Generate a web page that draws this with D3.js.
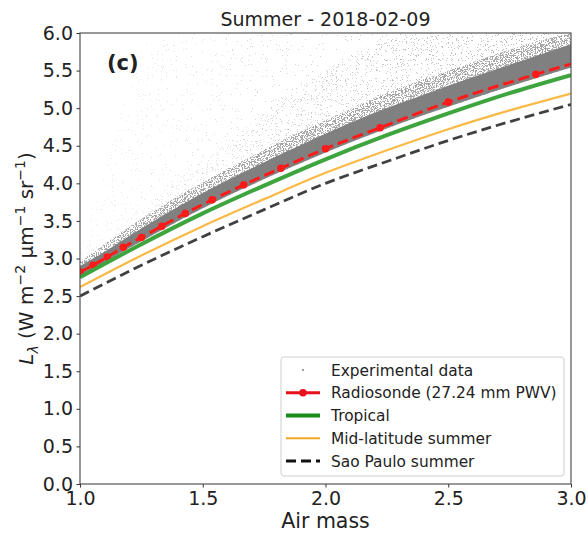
<!DOCTYPE html>
<html>
<head>
<meta charset="utf-8">
<script src="https://cdn.jsdelivr.net/npm/d3@7"></script>
<style>
  body { margin: 0; background: #fff; }
  text { font-family: "DejaVu Sans", sans-serif; fill: #222; }
</style>
</head>
<body>
<svg width="588" height="536"></svg>
<script>
// radiosonde run (markers)
const airmassRS = [1.0, 1.053, 1.111, 1.176, 1.25, 1.333, 1.429, 1.538, 1.667, 1.818, 2.0, 2.222, 2.5, 2.857, 3.333];
const radiosonde = [2.82, 2.91, 3.02, 3.15, 3.28, 3.43, 3.60, 3.78, 3.98, 4.20, 4.46, 4.74, 5.08, 5.45, 5.89];

// model atmospheres
const airmassModel = [1.0, 1.25, 1.5, 1.75, 2.0, 2.25, 2.5, 2.75, 3.0];
const tropical = [2.75, 3.19, 3.60, 3.97, 4.32, 4.64, 4.93, 5.20, 5.44];
const midLatSummer = [2.62, 3.04, 3.43, 3.79, 4.14, 4.44, 4.72, 4.97, 5.195];
const saoPauloSummer = [2.50, 2.91, 3.29, 3.65, 4.00, 4.29, 4.57, 4.82, 5.05];

// experimental cloud, read as envelopes
const cloudX = [1.0, 1.1, 1.2, 1.3, 1.4, 1.5, 1.6, 1.7, 1.8, 1.9, 2.0, 2.2, 2.4, 2.6, 2.8, 3.0];
const bandLow = [2.77, 2.95, 3.14, 3.32, 3.50, 3.67, 3.83, 3.98, 4.13, 4.27, 4.41, 4.67, 4.91, 5.13, 5.34, 5.54];
const bandHigh = [2.90, 3.09, 3.30, 3.50, 3.69, 3.87, 4.04, 4.20, 4.36, 4.51, 4.66, 4.94, 5.18, 5.41, 5.63, 5.85];
const edgeHigh = [2.96, 3.19, 3.42, 3.63, 3.83, 4.01, 4.19, 4.36, 4.53, 4.69, 4.84, 5.13, 5.38, 5.61, 5.83, 6.0];
const fuzzHigh = [3.0, 3.25, 3.55, 3.8, 4.05, 4.3, 4.55, 4.8, 5.05, 5.3, 5.5, 5.85, 6.0, 6.0, 6.0, 6.0];
const sparseHigh = [3.1, 4.2, 5.3, 6.0, 6.0, 6.0, 6.0, 6.0, 6.0, 6.0, 6.0, 6.0, 6.0, 6.0, 6.0, 6.0];

const xTicks = [1.0, 1.5, 2.0, 2.5, 3.0];
const yTicks = [0.0, 0.5, 1.0, 1.5, 2.0, 2.5, 3.0, 3.5, 4.0, 4.5, 5.0, 5.5, 6.0];

const legendItems = [
  { label: "Experimental data", kind: "dot" },
  { label: "Radiosonde (27.24 mm PWV)", kind: "red" },
  { label: "Tropical", kind: "green" },
  { label: "Mid-latitude summer", kind: "orange" },
  { label: "Sao Paulo summer", kind: "black" }
];

const margin = { top: 33, right: 17, bottom: 52, left: 80 };
const W = 588, H = 536;
const plotW = W - margin.left - margin.right;
const plotH = H - margin.top - margin.bottom;

const svg = d3.select("svg");
const defs = svg.append("defs");

defs.append("clipPath").attr("id", "plotClip")
  .append("rect").attr("width", plotW).attr("height", plotH);

// speckle filters give the scatter-cloud texture
function speckle(id, seed, freq, cut) {
  const f = defs.append("filter").attr("id", id)
    .attr("filterUnits", "userSpaceOnUse")
    .attr("x", 0).attr("y", 0).attr("width", plotW).attr("height", plotH)
    .attr("color-interpolation-filters", "sRGB");
  f.append("feTurbulence").attr("type", "fractalNoise")
    .attr("baseFrequency", freq).attr("numOctaves", 2).attr("seed", seed).attr("result", "n");
  f.append("feColorMatrix").attr("in", "n").attr("type", "matrix")
    .attr("values", "0 0 0 0 0  0 0 0 0 0  0 0 0 0 0  1 0 0 0 0").attr("result", "a");
  const steps = 50;
  const table = d3.range(steps).map(i => (i / steps >= cut ? 1 : 0)).join(" ");
  f.append("feComponentTransfer").attr("in", "a").attr("result", "dots")
    .append("feFuncA").attr("type", "discrete").attr("tableValues", table);
  f.append("feComposite").attr("in", "SourceGraphic").attr("in2", "dots").attr("operator", "in");
}
speckle("spSparse", 3, 0.8, 0.74);
speckle("spFuzz", 7, 0.8, 0.68);
speckle("spEdge", 11, 0.85, 0.52);

const grad = defs.append("linearGradient").attr("id", "cloudGrad")
  .attr("x1", 0).attr("x2", 1).attr("y1", 0).attr("y2", 0);
grad.append("stop").attr("offset", "0%").attr("stop-color", "#a8a8a8").attr("stop-opacity", 0.2);
grad.append("stop").attr("offset", "35%").attr("stop-color", "#a8a8a8").attr("stop-opacity", 0.45);
grad.append("stop").attr("offset", "100%").attr("stop-color", "#a8a8a8").attr("stop-opacity", 0.85);

const x = d3.scaleLinear().domain([1, 3]).range([0, plotW]);
const y = d3.scaleLinear().domain([0, 6]).range([plotH, 0]);

const g = svg.append("g").attr("transform", `translate(${margin.left},${margin.top})`);
const plot = g.append("g").attr("clip-path", "url(#plotClip)");

// cloud layers
function cloudArea(top) {
  return d3.area()
    .x((d, i) => x(cloudX[i]))
    .y0((d, i) => y(bandLow[i]))
    .y1((d, i) => y(top[i]))
    .curve(d3.curveMonotoneX)(cloudX);
}
const cloudLayer = plot.append("g");
cloudLayer.append("path").attr("d", cloudArea(sparseHigh))
  .attr("fill", "url(#cloudGrad)").attr("filter", "url(#spSparse)");
cloudLayer.append("path").attr("d", cloudArea(fuzzHigh))
  .attr("fill", "url(#cloudGrad)").attr("filter", "url(#spFuzz)");
cloudLayer.append("path").attr("d", cloudArea(edgeHigh))
  .attr("fill", "#8c8c8c").attr("fill-opacity", 0.75).attr("filter", "url(#spEdge)");
cloudLayer.append("path").attr("d", cloudArea(bandHigh))
  .attr("fill", "#808080");

// lines
const lineRS = d3.line()
  .x((d, i) => x(airmassRS[i]))
  .y(d => y(d))
  .curve(d3.curveMonotoneX);
const lineModel = d3.line()
  .x((d, i) => x(airmassModel[i]))
  .y(d => y(d))
  .curve(d3.curveMonotoneX);

plot.append("path").attr("d", lineRS(radiosonde))
  .attr("fill", "none").attr("stroke", "#ff1a1a").attr("stroke-width", 3)
  .attr("stroke-dasharray", "11,5");
plot.selectAll("circle.rs").data(radiosonde).enter().append("circle")
  .attr("class", "rs")
  .attr("cx", (d, i) => x(airmassRS[i]))
  .attr("cy", d => y(d))
  .attr("r", 3.8)
  .attr("fill", "#ff1a1a");

plot.append("path").attr("d", lineModel(tropical))
  .attr("fill", "none").attr("stroke", "#3ea43e").attr("stroke-width", 4);
plot.append("path").attr("d", lineModel(midLatSummer))
  .attr("fill", "none").attr("stroke", "#f9b944").attr("stroke-width", 2.2);
plot.append("path").attr("d", lineModel(saoPauloSummer))
  .attr("fill", "none").attr("stroke", "#404040").attr("stroke-width", 2.8)
  .attr("stroke-dasharray", "10,5");

// axes
const xAxis = d3.axisBottom(x).tickValues(xTicks).tickFormat(d3.format(".1f"))
  .tickSizeInner(3.5).tickSizeOuter(0).tickPadding(4);
const yAxis = d3.axisLeft(y).tickValues(yTicks).tickFormat(d3.format(".1f"))
  .tickSizeInner(3.5).tickSizeOuter(0).tickPadding(3.5);

const gx = g.append("g").attr("transform", `translate(0,${plotH})`).call(xAxis);
const gy = g.append("g").call(yAxis);
[gx, gy].forEach(a => {
  a.select(".domain").remove();
  a.selectAll(".tick line").attr("stroke", "#333").attr("stroke-width", 1);
  a.selectAll(".tick text").attr("font-size", "19px").attr("fill", "#222")
    .attr("font-family", "DejaVu Sans");
});

// frame
g.append("rect").attr("width", plotW).attr("height", plotH)
  .attr("fill", "none").attr("stroke", "#444").attr("stroke-width", 1.1);

// titles
g.append("text").attr("x", plotW / 2).attr("y", -7)
  .attr("text-anchor", "middle").attr("font-size", "19px")
  .text("Summer - 2018-02-09");

g.append("text").attr("x", 27).attr("y", 37)
  .attr("font-size", "21px").attr("font-weight", "bold")
  .text("(c)");

g.append("text").attr("x", plotW / 2).attr("y", plotH + 44)
  .attr("text-anchor", "middle").attr("font-size", "20.5px")
  .text("Air mass");

const yl = svg.append("text")
  .attr("transform", `translate(33,${margin.top + plotH / 2}) rotate(-90)`)
  .attr("text-anchor", "middle").attr("font-size", "20px");
yl.append("tspan").attr("font-style", "italic").text("L");
yl.append("tspan").attr("font-style", "italic").attr("font-size", "14px").attr("dy", 5).text("λ");
yl.append("tspan").attr("dy", -5).text(" (W m");
yl.append("tspan").attr("font-size", "14px").attr("dy", -8).text("−2");
yl.append("tspan").attr("dy", 8).text(" µm");
yl.append("tspan").attr("font-size", "14px").attr("dy", -8).text("−1");
yl.append("tspan").attr("dy", 8).text(" sr");
yl.append("tspan").attr("font-size", "14px").attr("dy", -8).text("−1");
yl.append("tspan").attr("dy", 8).text(")");

// legend
const lg = svg.append("g").attr("transform", "translate(281,357)");
lg.append("rect").attr("width", 283).attr("height", 119).attr("rx", 3)
  .attr("fill", "#fff").attr("fill-opacity", 0.85)
  .attr("stroke", "#d0d0d0").attr("stroke-width", 1);
const rows = lg.selectAll("g.row").data(legendItems).enter().append("g")
  .attr("class", "row")
  .attr("transform", (d, i) => `translate(0,${13 + i * 22.75})`);
rows.append("text").attr("x", 50).attr("y", 5.5)
  .attr("font-size", "15.4px").text(d => d.label);
rows.each(function (d) {
  const r = d3.select(this);
  if (d.kind === "dot") {
    r.append("circle").attr("cx", 22).attr("cy", 0).attr("r", 1).attr("fill", "#808080");
  } else if (d.kind === "red") {
    r.append("line").attr("x1", 5).attr("x2", 39).attr("stroke", "#e8101a").attr("stroke-width", 3);
    r.append("circle").attr("cx", 22).attr("r", 3.8).attr("fill", "#e8101a");
  } else if (d.kind === "green") {
    r.append("line").attr("x1", 5).attr("x2", 39).attr("stroke", "#1a8c1a").attr("stroke-width", 4);
  } else if (d.kind === "orange") {
    r.append("line").attr("x1", 5).attr("x2", 39).attr("stroke", "#f5a623").attr("stroke-width", 2.2);
  } else {
    r.append("line").attr("x1", 5).attr("x2", 39).attr("stroke", "#111").attr("stroke-width", 2.8)
      .attr("stroke-dasharray", "10,5");
  }
});
</script>
</body>
</html>
